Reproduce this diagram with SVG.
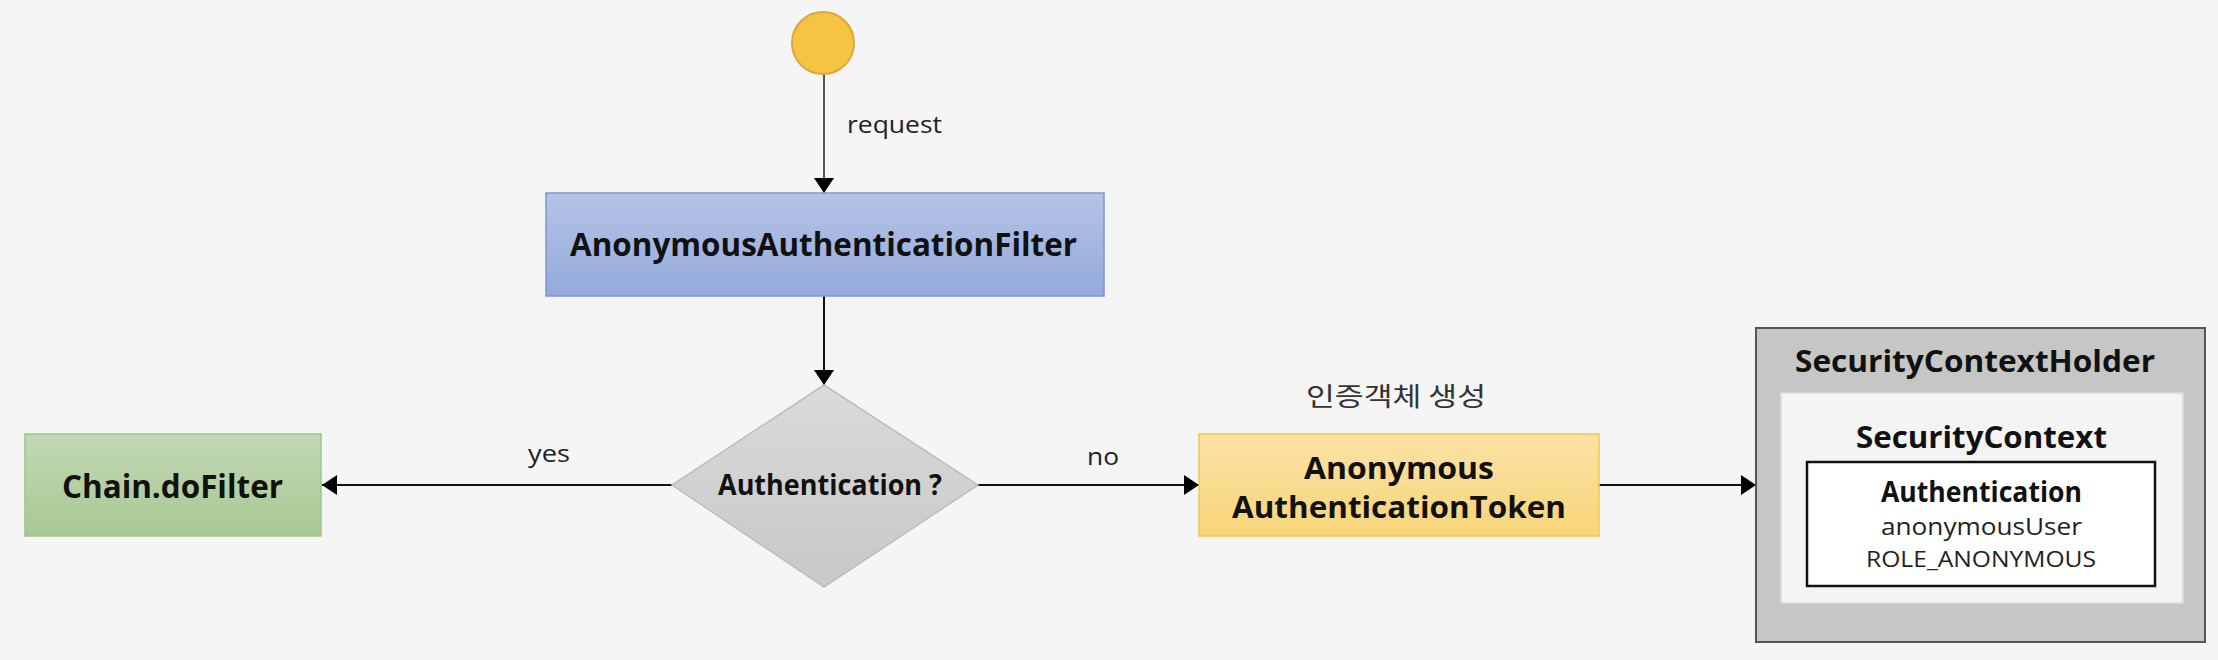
<svg xmlns="http://www.w3.org/2000/svg" width="2218" height="660" viewBox="0 0 2218 660">
<style>
.b{font-family:"Open Sans","Noto Sans","Liberation Sans",sans-serif;font-weight:bold;fill:#111}
.r{font-family:"Open Sans","Noto Sans","Liberation Sans",sans-serif;fill:#222}
.k{font-family:"Noto Sans CJK KR","Noto Sans",sans-serif;fill:#333}
.ln{stroke:#111;stroke-width:2;fill:none}
</style>
<defs>
<linearGradient id="gBlue" x1="0" y1="0" x2="0" y2="1"><stop offset="0" stop-color="#b5c4e6"/><stop offset="1" stop-color="#94a9dc"/></linearGradient>
<linearGradient id="gGreen" x1="0" y1="0" x2="0" y2="1"><stop offset="0" stop-color="#c3d8b6"/><stop offset="1" stop-color="#a8c891"/></linearGradient>
<linearGradient id="gYel" x1="0" y1="0" x2="0" y2="1"><stop offset="0" stop-color="#fbe2a6"/><stop offset="1" stop-color="#f8d57a"/></linearGradient>
<linearGradient id="gGray" x1="0" y1="0" x2="0" y2="1"><stop offset="0" stop-color="#dadada"/><stop offset="1" stop-color="#c8c8c8"/></linearGradient>
<marker id="arr" markerUnits="userSpaceOnUse" markerWidth="16" markerHeight="20" refX="15" refY="10" orient="auto"><path d="M0,0 L15,10 L0,20 Z" fill="#000"/></marker>
</defs>
<rect width="2218" height="660" fill="#f5f5f5"/>
<g id="connectors">
<line class="ln" x1="824" y1="74" x2="824" y2="193" style="stroke:#555" marker-end="url(#arr)"/>
<line class="ln" x1="824" y1="296" x2="824" y2="385" marker-end="url(#arr)"/>
<line class="ln" x1="672" y1="485" x2="322" y2="485" marker-end="url(#arr)"/>
<line class="ln" x1="978" y1="485" x2="1199" y2="485" marker-end="url(#arr)"/>
<line class="ln" x1="1599" y1="485" x2="1756" y2="485" marker-end="url(#arr)"/>
<text class="r" x="847" y="133" font-size="23" textLength="95" lengthAdjust="spacingAndGlyphs">request</text>
<text class="r" x="528" y="462" font-size="23" textLength="42" lengthAdjust="spacingAndGlyphs">yes</text>
<text class="r" x="1087" y="465" font-size="23" textLength="32" lengthAdjust="spacingAndGlyphs">no</text>
<text class="k" x="1306" y="406" font-size="26" textLength="180" lengthAdjust="spacingAndGlyphs">인증객체 생성</text>
</g>
<g id="start">
<circle cx="823" cy="43" r="31" fill="#f5c443" stroke="#d8a93c" stroke-width="2"/>
</g>
<g id="filter">
<rect x="546" y="193" width="558" height="103" fill="url(#gBlue)" stroke="#7f96cc" stroke-width="1.5"/>
<text class="b" x="570" y="256" font-size="32" textLength="507" lengthAdjust="spacingAndGlyphs">AnonymousAuthenticationFilter</text>
</g>
<g id="decision">
<polygon points="824,385 978,485 824,587 672,485" fill="url(#gGray)" stroke="#bdbdbd" stroke-width="1.5"/>
<text class="b" x="718" y="495" font-size="29" textLength="224" lengthAdjust="spacingAndGlyphs">Authentication ?</text>
</g>
<g id="chain">
<rect x="25" y="434" width="296" height="102" fill="url(#gGreen)" stroke="#9cc484" stroke-width="1.5"/>
<text class="b" x="62" y="498" font-size="33" textLength="221" lengthAdjust="spacingAndGlyphs">Chain.doFilter</text>
</g>
<g id="token">
<rect x="1199" y="434" width="400" height="102" fill="url(#gYel)" stroke="#f0c850" stroke-width="1.5"/>
<text class="b" x="1304" y="479" font-size="31" textLength="190" lengthAdjust="spacingAndGlyphs">Anonymous</text>
<text class="b" x="1232" y="518" font-size="31" textLength="334" lengthAdjust="spacingAndGlyphs">AuthenticationToken</text>
</g>
<g id="holder">
<rect x="1756" y="328" width="449" height="314" fill="#c6c6c6" stroke="#555" stroke-width="2"/>
<text class="b" x="1795" y="372" font-size="30" textLength="360" lengthAdjust="spacingAndGlyphs">SecurityContextHolder</text>
<g id="context">
<rect x="1781" y="393" width="402" height="210" fill="#f4f4f4" stroke="#dcdcdc" stroke-width="1.5"/>
<text class="b" x="1856" y="448" font-size="30" textLength="251" lengthAdjust="spacingAndGlyphs">SecurityContext</text>
<g id="authentication">
<rect x="1807" y="462" width="348" height="124" fill="#fff" stroke="#111" stroke-width="2.5"/>
<text class="b" x="1881" y="502" font-size="28" textLength="201" lengthAdjust="spacingAndGlyphs">Authentication</text>
<text class="r" x="1881" y="535" font-size="23" textLength="201" lengthAdjust="spacingAndGlyphs">anonymousUser</text>
<text class="r" x="1866" y="567" font-size="22" textLength="230" lengthAdjust="spacingAndGlyphs">ROLE_ANONYMOUS</text>
</g>
</g>
</g>
</svg>
